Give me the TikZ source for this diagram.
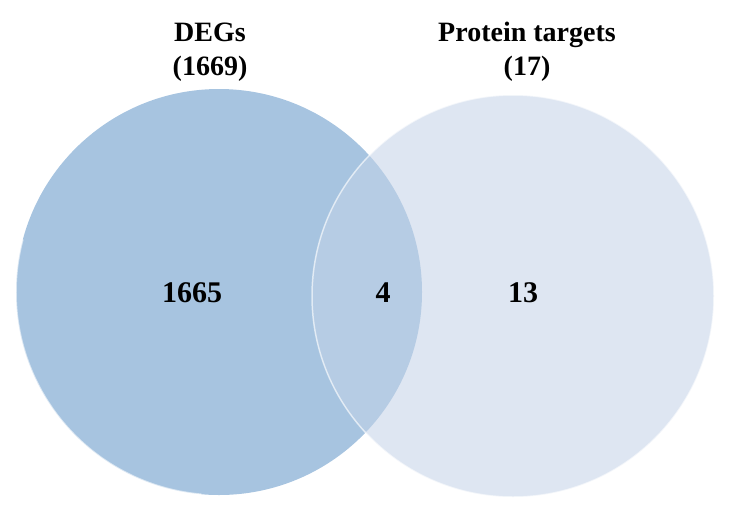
\documentclass[tikz,border=0pt]{standalone}
\usepackage{fontspec}
\setmainfont{Liberation Serif}
\usetikzlibrary{positioning}
\definecolor{degblue}{RGB}{167,196,224}
\definecolor{protblue}{RGB}{222,230,242}
\definecolor{overlapblue}{RGB}{182,204,228}

\begin{document}
\begin{tikzpicture}[x=1pt,y=-1pt,
  setlabel/.style={font=\bfseries\fontsize{28}{34}\selectfont, align=center},
  countlabel/.style={font=\bfseries\fontsize{30}{36}\selectfont},
  rim/.style={white, opacity=0.6, line width=1.5pt}]
  \useasboundingbox (0,0) rectangle (730,512);
  % centres of the two sets
  \coordinate (degs) at (219,292);
  \coordinate (prot) at (513,296);
  % left set: DEGs
  \fill[degblue] (degs) circle[radius=203];
  % right set: protein targets
  \fill[protblue] (prot) circle[radius=201];
  % overlap of both sets
  \begin{scope}
    \clip (degs) circle[radius=203];
    \fill[overlapblue] (prot) circle[radius=201];
  \end{scope}
  % light rims
  \draw[rim] (degs) ++(195:203) arc[start angle=195, end angle=95, radius=203];
  \draw[rim] (prot) circle[radius=201];
  % set names
  \node[setlabel] (degtitle) at (210,52) {DEGs\\(1669)};
  \node[setlabel] (prottitle) at (527,52) {Protein targets\\(17)};
  % counts
  \node[countlabel] (onlydeg) at (192,293) {1665};
  \node[countlabel] (both) at (383,293) {4};
  \node[countlabel] (onlyprot) at (523,293) {13};
\end{tikzpicture}
\end{document}
